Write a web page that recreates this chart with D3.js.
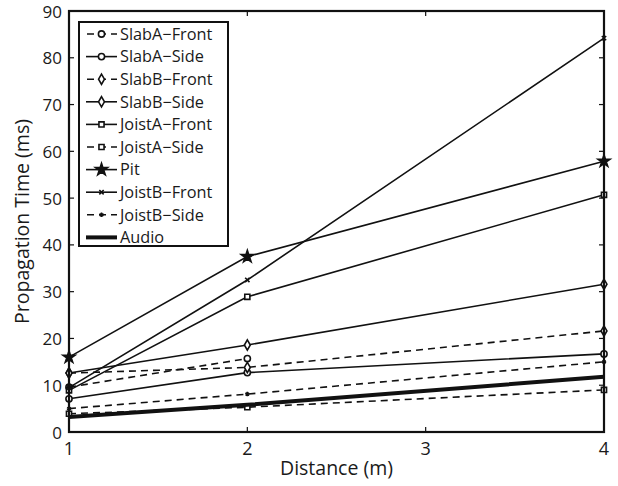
<!DOCTYPE html>
<html>
<head>
<meta charset="utf-8">
<script src="https://cdn.jsdelivr.net/npm/d3@7"></script>
<style>
  body { margin: 0; background: #fff; }
  text { font-family: "Open Sans", Lato, sans-serif; fill: #1a1a1a; }
</style>
</head>
<body>
<div id="chart"></div>
<script>
// Data
const distances = [1, 2, 4];
const xTicks = [1, 2, 3, 4];
const yTicks = [0, 10, 20, 30, 40, 50, 60, 70, 80, 90];

const seriesNames = ['SlabA\u2212Front', 'SlabA\u2212Side', 'SlabB\u2212Front', 'SlabB\u2212Side',
  'JoistA\u2212Front', 'JoistA\u2212Side', 'Pit', 'JoistB\u2212Front', 'JoistB\u2212Side', 'Audio'];

const slabAFront = [9.6, 15.7, null];
const slabASide = [7.1, 12.7, 16.7];
const slabBFront = [12.6, 13.8, 21.6];
const slabBSide = [12.6, 18.6, 31.6];
const joistAFront = [8.9, 28.9, 50.7];
const joistASide = [3.9, 5.3, 9.0];
const pit = [16.0, 37.5, 57.9];
const joistBFront = [9.5, 32.5, 84.2];
const joistBSide = [5.0, 8.1, 15.0];
const audio = [3.2, 5.8, 11.8];

const seriesValues = [slabAFront, slabASide, slabBFront, slabBSide, joistAFront,
  joistASide, pit, joistBFront, joistBSide, audio];
const seriesDashed = [true, false, true, false, false, true, false, false, true, false];
const seriesMarker = ['circle', 'circle', 'diamond', 'diamond', 'square', 'square', 'star', 'cross', 'dot', 'none'];

const width = 618;
const height = 486;
const margin = { top: 11, right: 14, bottom: 54, left: 69 };

const svg = d3.select('#chart')
  .append('svg')
  .attr('width', width)
  .attr('height', height);

const x = d3.scaleLinear().domain([1, 4]).range([margin.left, width - margin.right]);
const y = d3.scaleLinear().domain([0, 90]).range([height - margin.bottom, margin.top]);

// Inward ticks on all four sides (MATLAB box style)
const tickLen = 5;
const axes = svg.append('g').attr('stroke', '#111').attr('stroke-width', 1.2);
xTicks.forEach(t => {
  axes.append('line').attr('x1', x(t)).attr('x2', x(t)).attr('y1', y(0)).attr('y2', y(0) - tickLen);
  axes.append('line').attr('x1', x(t)).attr('x2', x(t)).attr('y1', y(90)).attr('y2', y(90) + tickLen);
});
yTicks.forEach(t => {
  axes.append('line').attr('x1', x(1)).attr('x2', x(1) + tickLen).attr('y1', y(t)).attr('y2', y(t));
  axes.append('line').attr('x1', x(4)).attr('x2', x(4) - tickLen).attr('y1', y(t)).attr('y2', y(t));
});

svg.append('g')
  .selectAll('text')
  .data(xTicks)
  .join('text')
  .attr('x', d => x(d))
  .attr('y', y(0) + 23)
  .attr('text-anchor', 'middle')
  .attr('font-size', 18)
  .text(d => d);

svg.append('g')
  .selectAll('text')
  .data(yTicks)
  .join('text')
  .attr('x', x(1) - 7)
  .attr('y', d => y(d) + 6.5)
  .attr('text-anchor', 'end')
  .attr('font-size', 17)
  .text(d => d);

svg.append('text')
  .attr('x', (x(1) + x(4)) / 2)
  .attr('y', 475)
  .attr('text-anchor', 'middle')
  .attr('font-size', 19.5)
  .text('Distance (m)');

svg.append('text')
  .attr('transform', `translate(29,${(y(0) + y(90)) / 2}) rotate(-90)`)
  .attr('text-anchor', 'middle')
  .attr('font-size', 19.5)
  .text('Propagation Time (ms)');

// Marker drawing
const symbolMap = {
  circle: d3.symbolCircle,
  diamond: d3.symbolDiamond,
  square: d3.symbolSquare,
  star: d3.symbolStar,
  cross: d3.symbolTimes,
  dot: d3.symbolAsterisk
};
const symbolSize = { circle: 30, diamond: 30, square: 26, star: 45, cross: 14, dot: 14 };

function drawMarker(g, type, cx, cy) {
  if (type === 'none') return;
  const filled = type === 'star' || type === 'dot' || type === 'cross';
  g.append('path')
    .attr('d', d3.symbol().type(symbolMap[type]).size(symbolSize[type])())
    .attr('transform', `translate(${cx},${cy})`)
    .attr('fill', filled ? '#111' : '#fff')
    .attr('stroke', '#111')
    .attr('stroke-width', 1.6);
}

const line = d3.line()
  .defined(d => d.v != null)
  .x(d => x(d.d))
  .y(d => y(d.v));

const plot = svg.append('g');
seriesValues.forEach((vals, i) => {
  const pts = distances.map((d, j) => ({ d: d, v: vals[j] }));
  plot.append('path')
    .datum(pts)
    .attr('d', line)
    .attr('fill', 'none')
    .attr('stroke', '#111')
    .attr('stroke-width', i === 9 ? 4 : 1.6)
    .attr('stroke-dasharray', seriesDashed[i] ? '7,5' : null);
  pts.filter(p => p.v != null).forEach(p => drawMarker(plot, seriesMarker[i], x(p.d), y(p.v)));
});

// Axes box
svg.append('rect')
  .attr('x', x(1))
  .attr('y', y(90))
  .attr('width', x(4) - x(1))
  .attr('height', y(0) - y(90))
  .attr('fill', 'none')
  .attr('stroke', '#111')
  .attr('stroke-width', 2.2);

// Legend
const legend = svg.append('g');
legend.append('rect')
  .attr('x', 79)
  .attr('y', 22)
  .attr('width', 149)
  .attr('height', 224)
  .attr('fill', '#fff')
  .attr('stroke', '#111')
  .attr('stroke-width', 2);

seriesNames.forEach((name, i) => {
  const ly = 34 + i * 22.6;
  legend.append('line')
    .attr('x1', 86).attr('x2', 117)
    .attr('y1', ly).attr('y2', ly)
    .attr('stroke', '#111')
    .attr('stroke-width', i === 9 ? 4 : 1.6)
    .attr('stroke-dasharray', seriesDashed[i] ? '7,5' : null)
    .attr('stroke-dashoffset', seriesDashed[i] ? -1 : null);
  drawMarker(legend, seriesMarker[i], 101.5, ly);
  legend.append('text')
    .attr('x', 120)
    .attr('y', ly + 5.8)
    .attr('font-size', 16.3)
    .text(name);
});
</script>
</body>
</html>
